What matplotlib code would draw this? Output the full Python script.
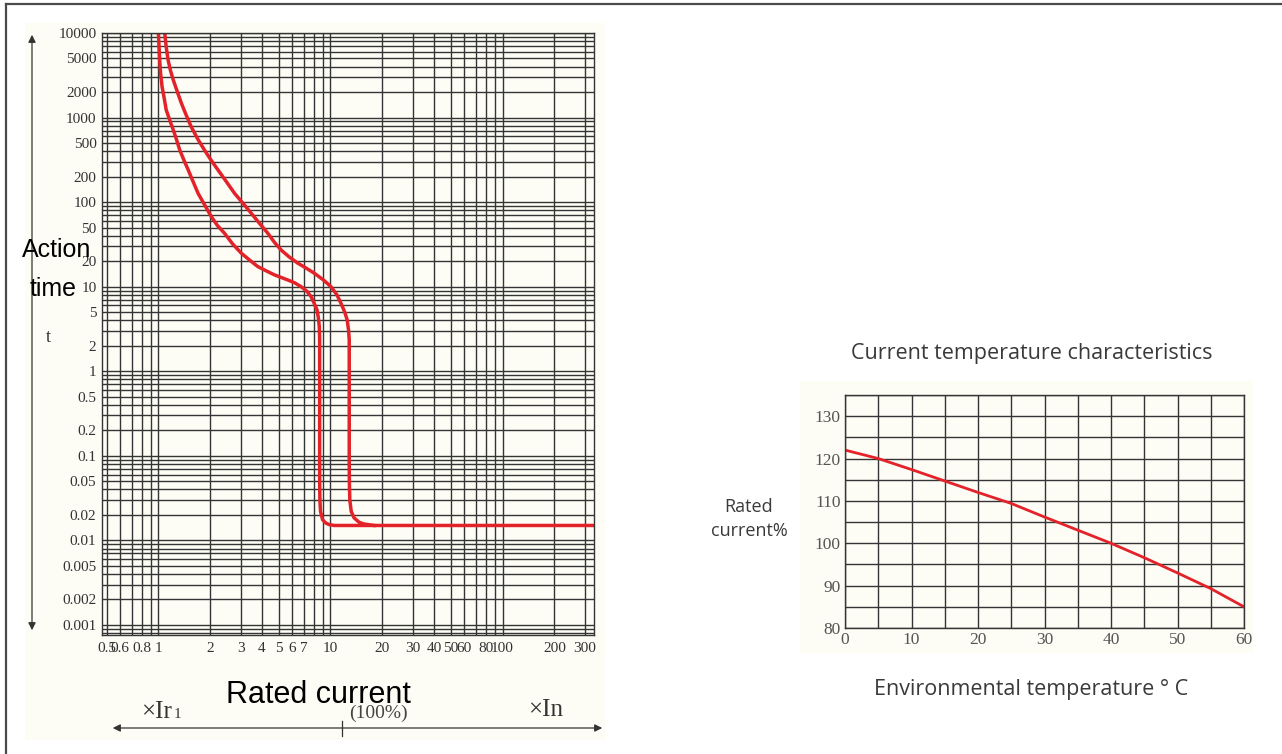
import matplotlib.pyplot as plt
from matplotlib.lines import Line2D
from matplotlib.patches import FancyArrowPatch, Rectangle
from matplotlib.ticker import FixedLocator, LogLocator, MultipleLocator, NullFormatter

W, H = 1282, 754

# --- Tripping curve: multiple of rated current vs. action time (s) ---
i_low = [1.00, 1.017, 1.03, 1.05, 1.08, 1.11, 1.16, 1.22, 1.27, 1.33, 1.41, 1.49, 1.59,
         1.70, 1.86, 2.03, 2.2, 2.42, 2.7, 3.03, 3.4, 3.78, 4.2, 4.72, 5.2, 5.65, 6.2,
         6.75, 7.3, 7.71, 8.0, 8.35, 8.5, 8.61, 8.65, 8.65, 8.65, 8.68, 8.75, 9.0, 9.4,
         9.8, 10.5, 340]
t_low = [10000, 4800, 3300, 2320, 1700, 1230, 950, 713, 560, 414, 310, 240, 175,
         127, 92, 67.4, 53, 42.9, 32, 24.9, 20.5, 17.3, 15.5, 13.8, 12.8, 12.0, 11.1,
         10.0, 8.8, 7.64, 6.5, 5.32, 4.3, 3.37, 2.35, 0.1, 0.05, 0.03, 0.022, 0.0175,
         0.016, 0.0154, 0.015, 0.015]

i_high = [1.088, 1.11, 1.138, 1.175, 1.22, 1.29, 1.36, 1.45, 1.55, 1.69, 1.85, 2.02,
          2.22, 2.48, 2.77, 3.1, 3.46, 3.87, 4.32, 4.72, 5.16, 5.75, 6.45, 7.25, 8.06,
          9.1, 10.07, 10.9, 11.5, 12.1, 12.5, 12.75, 12.85, 12.85, 12.87, 12.95, 13.2,
          13.7, 14.7, 15.7, 17.9]
t_high = [10000, 6800, 4800, 3600, 2780, 2000, 1475, 1070, 780, 560, 414, 315,
          240, 175, 127, 97, 74, 56, 42.9, 33.5, 27.2, 22.5, 19.0, 16.5, 14.4,
          12.0, 10.0, 8.0, 6.38, 5.0, 4.05, 3.0, 2.35, 0.1, 0.05, 0.03, 0.022,
          0.0185, 0.0163, 0.0156, 0.015]

x_ticks = [0.5, 0.6, 0.8, 1, 2, 3, 4, 5, 6, 7, 10, 20, 30, 40, 50, 60, 80, 100, 200, 300]
x_labels = ["0.5", "0.6", "0.8", "1", "2", "3", "4", "5", "6", "7", "10", "20", "30",
            "40", "50", "60", "80", "100", "200", "300"]
y_ticks = [10000, 5000, 2000, 1000, 500, 200, 100, 50, 20, 10, 5, 2, 1, 0.5, 0.2, 0.1,
           0.05, 0.02, 0.01, 0.005, 0.002, 0.001]
y_labels = ["10000", "5000", "2000", "1000", "500", "200", "100", "50", "20", "10", "5",
            "2", "1", "0.5", "0.2", "0.1", "0.05", "0.02", "0.01", "0.005", "0.002", "0.001"]

# --- Current temperature characteristics ---
temp = [0, 5, 10, 15, 20, 25, 30, 35, 40, 45, 50, 55, 60]
rated_pct = [122, 120, 117.4, 114.7, 112, 109.4, 106.2, 103.1, 100, 96.6, 93, 89.3, 85]

RED = "#e3222a"
CREAM = "#fdfcf5"
GRID = "#353535"
SERIF = "Liberation Serif"
NARROW = ["Liberation Sans Narrow", "Liberation Sans"]
SANS = "Open Sans"


def fx(px):
    return px / W


def fy(py):
    return 1 - py / H


def box(x0, y0, x1, y1):
    return [fx(x0), fy(y1), fx(x1) - fx(x0), fy(y0) - fy(y1)]


fig = plt.figure(figsize=(W / 100, H / 100), dpi=100)
fig.patch.set_facecolor("white")

# page frame and paper backgrounds
fig.add_artist(Line2D([fx(6), fx(6)], [fy(4), 0], color="#4a4a4a", lw=1.6))
fig.add_artist(Line2D([fx(6), 1], [fy(4), fy(4)], color="#4a4a4a", lw=1.6))
for x0, y0, x1, y1 in [(25, 23, 605, 740), (800, 381, 1253, 653)]:
    b = box(x0, y0, x1, y1)
    fig.add_artist(Rectangle((b[0], b[1]), b[2], b[3], transform=fig.transFigure,
                             facecolor=CREAM, edgecolor="none", zorder=-1))

################## Left: tripping curve ##################

ax = fig.add_axes(box(102, 33, 594, 635))
ax.set_facecolor(CREAM)
ax.set_xscale("log")
ax.set_yscale("log")
ax.set_xlim(0.47, 340)
ax.set_ylim(0.00076, 10000)
ax.xaxis.set_major_locator(FixedLocator(x_ticks))
ax.xaxis.set_minor_locator(LogLocator(subs=range(2, 10)))
ax.xaxis.set_minor_formatter(NullFormatter())
ax.set_xticklabels(x_labels)
ax.yaxis.set_major_locator(FixedLocator(y_ticks))
ax.yaxis.set_minor_locator(LogLocator(subs=range(2, 10)))
ax.yaxis.set_minor_formatter(NullFormatter())
ax.set_yticklabels(y_labels)
ax.grid(which="both", color=GRID, lw=1.0)
ax.tick_params(which="both", length=0, labelsize=11, labelcolor="#333333")
ax.tick_params(axis="x", pad=5)
ax.tick_params(axis="y", pad=4)
for lab in ax.get_xticklabels() + ax.get_yticklabels():
    lab.set_fontfamily(SERIF)
for sp in ax.spines.values():
    sp.set_color(GRID)
    sp.set_linewidth(1.0)

ax.plot(i_low, t_low, color=RED, lw=2.5, solid_joinstyle="round")
ax.plot(i_high, t_high, color=RED, lw=2.5, solid_joinstyle="round")

fig.text(fx(57), fy(250), "Action", ha="center", va="center", fontsize=18, family=NARROW)
fig.text(fx(53), fy(289), "time", ha="center", va="center", fontsize=18, family=NARROW)
fig.text(fx(48), fy(338), "t", ha="center", va="center", fontsize=13, family=SERIF,
         color="#333333")
fig.add_artist(FancyArrowPatch((fx(32), fy(633)), (fx(32), fy(32)), transform=fig.transFigure,
                               arrowstyle="<|-|>", mutation_scale=11, color="#333333", lw=0.9))

fig.text(fx(318), fy(695), "Rated current", ha="center", va="center", fontsize=22,
         family=NARROW)
fig.text(fx(141), fy(718), "\u00d7Ir", ha="left", va="baseline", fontsize=18, family=SERIF,
         color="#333333")
fig.text(fx(174), fy(718), "1", ha="left", va="baseline", fontsize=11, family=SERIF,
         color="#333333")
fig.text(fx(378), fy(713), "(100%)", ha="center", va="center", fontsize=14, family=SERIF,
         color="#444444")
fig.text(fx(546), fy(710), "\u00d7In", ha="center", va="center", fontsize=18, family=SERIF,
         color="#333333")
fig.add_artist(FancyArrowPatch((fx(110), fy(728)), (fx(605), fy(728)), transform=fig.transFigure,
                               arrowstyle="<|-|>", mutation_scale=11, color="#333333", lw=0.9))
fig.add_artist(Line2D([fx(342), fx(342)], [fy(721), fy(736)], color="#333333", lw=0.9))

################## Right: current temperature characteristics ##################

ax2 = fig.add_axes(box(845, 395, 1244, 628))
ax2.set_facecolor(CREAM)
ax2.set_xlim(0, 60)
ax2.set_ylim(80, 135)
ax2.xaxis.set_major_locator(MultipleLocator(10))
ax2.xaxis.set_minor_locator(MultipleLocator(5))
ax2.yaxis.set_major_locator(FixedLocator([80, 90, 100, 110, 120, 130]))
ax2.yaxis.set_minor_locator(MultipleLocator(5))
ax2.grid(which="both", color=GRID, lw=1.0)
ax2.tick_params(which="both", length=0, labelsize=12.5, labelcolor="#555555")
ax2.tick_params(axis="x", pad=3)
ax2.tick_params(axis="y", pad=3)
for lab in ax2.get_xticklabels() + ax2.get_yticklabels():
    lab.set_fontfamily(SERIF)
for sp in ax2.spines.values():
    sp.set_color(GRID)
    sp.set_linewidth(1.0)

ax2.plot(temp, rated_pct, color=RED, lw=2.0)

fig.text(fx(1032), fy(353), "Current temperature characteristics", ha="center", va="center",
         fontsize=15.5, family=SANS, color="#3a3a3a")
fig.text(fx(749), fy(519), "Rated\ncurrent%", ha="center", va="center", fontsize=13,
         family=SANS, color="#3a3a3a", linespacing=1.4)
fig.text(fx(1031), fy(689), "Environmental temperature \u00b0 C", ha="center", va="center",
         fontsize=15.5, family=SANS, color="#3a3a3a")

fig.savefig("out.png", dpi=100, facecolor=fig.get_facecolor())
